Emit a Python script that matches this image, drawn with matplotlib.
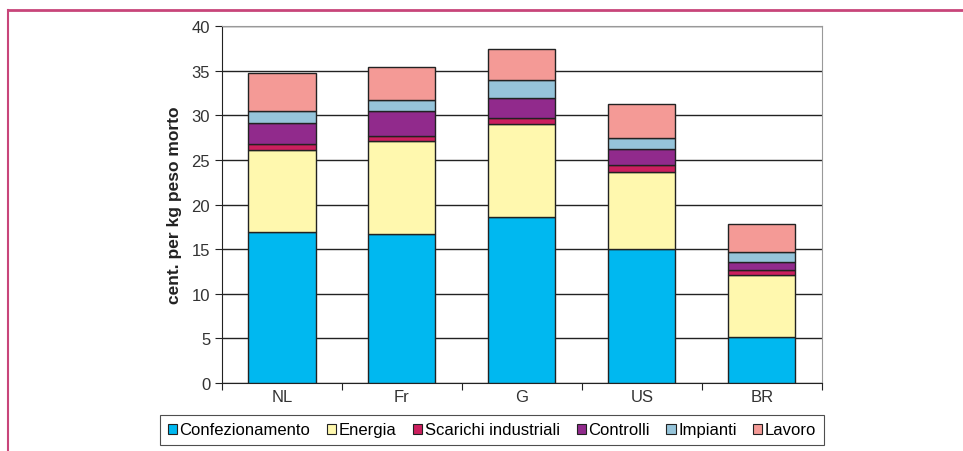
import numpy as np
import matplotlib.pyplot as plt
from matplotlib.lines import Line2D

# Data (cent. per kg peso morto)
paesi = ["NL", "Fr", "G", "US", "BR"]
voci = ["Confezionamento", "Energia", "Scarichi industriali",
        "Controlli", "Impianti", "Lavoro"]
confezionamento = [16.9, 16.67, 18.58, 14.99, 5.12]
energia = [9.27, 10.43, 10.43, 8.64, 6.95]
scarichi = [0.6, 0.56, 0.67, 0.78, 0.57]
controlli = [2.35, 2.81, 2.25, 1.80, 0.89]
impianti = [1.35, 1.23, 2.01, 1.23, 1.12]
lavoro = [4.26, 3.70, 3.48, 3.81, 3.14]
colori = ["#00B8F0", "#FFF8AE", "#CC1F5E", "#912A8C", "#96C4DA", "#F49A96"]

plt.rcParams['font.family'] = ['Liberation Sans', 'DejaVu Sans']

fig = plt.figure(figsize=(9.63, 4.52), dpi=100)
ax = fig.add_axes([0.2305, 0.1504, 0.8533 - 0.2305, 0.9396 - 0.1504])

x = np.arange(len(paesi))
serie = [confezionamento, energia, scarichi, controlli, impianti, lavoro]
base = np.zeros(len(paesi))
for nome, vals, col in zip(voci, serie, colori):
    ax.bar(x, vals, width=0.56, bottom=base, color=col, edgecolor='#222222',
           linewidth=1.0, label=nome, zorder=3)
    base += np.array(vals)

ax.set_xlim(-0.5, 4.5)
ax.set_ylim(0, 40)
ax.set_yticks(np.arange(0, 41, 5))
ax.yaxis.grid(True, color='#222222', linewidth=1.0, zorder=0)
ax.tick_params(axis='y', labelsize=12, length=5, direction='out',
               colors='#222222', labelcolor='#333333')

# boundary ticks without labels, category labels centred
ax.set_xticks(np.arange(-0.5, 5, 1))
ax.set_xticklabels([])
ax.tick_params(axis='x', which='major', length=5, color='#222222')
ax.set_xticks(x, minor=True)
ax.set_xticklabels(paesi, minor=True)
ax.tick_params(axis='x', which='minor', length=0, labelsize=12,
               labelcolor='#333333', pad=4)

for s in ['top', 'right']:
    ax.spines[s].set_color('#999999')
for s in ['left', 'bottom']:
    ax.spines[s].set_color('#222222')

ax.set_ylabel("cent. per kg peso morto", fontsize=12.5, fontweight='bold',
              color='#222222', labelpad=7)

handles = [plt.Rectangle((0, 0), 1, 1, facecolor=c, edgecolor='#222222',
                         linewidth=0.8) for c in colori]
leg = fig.legend(handles, voci, loc='center', bbox_to_anchor=(0.511, 0.0465),
                 ncol=6, frameon=True, fancybox=False, edgecolor='#222222',
                 handlelength=0.55, handleheight=0.55, handletextpad=0.15,
                 columnspacing=1.0, borderpad=0.45,
                 prop={'family': ['Liberation Sans'], 'size': 12})
leg.get_frame().set_linewidth(0.8)

# page border lines (top and left)
fig.add_artist(Line2D([8 / 963, 1], [1 - 10.5 / 452, 1 - 10.5 / 452],
                      color='#C8457A', linewidth=2, transform=fig.transFigure))
fig.add_artist(Line2D([8 / 963, 8 / 963], [0, 1 - 10.5 / 452],
                      color='#C8457A', linewidth=1.5, transform=fig.transFigure))

fig.savefig("out.png", dpi=100)
